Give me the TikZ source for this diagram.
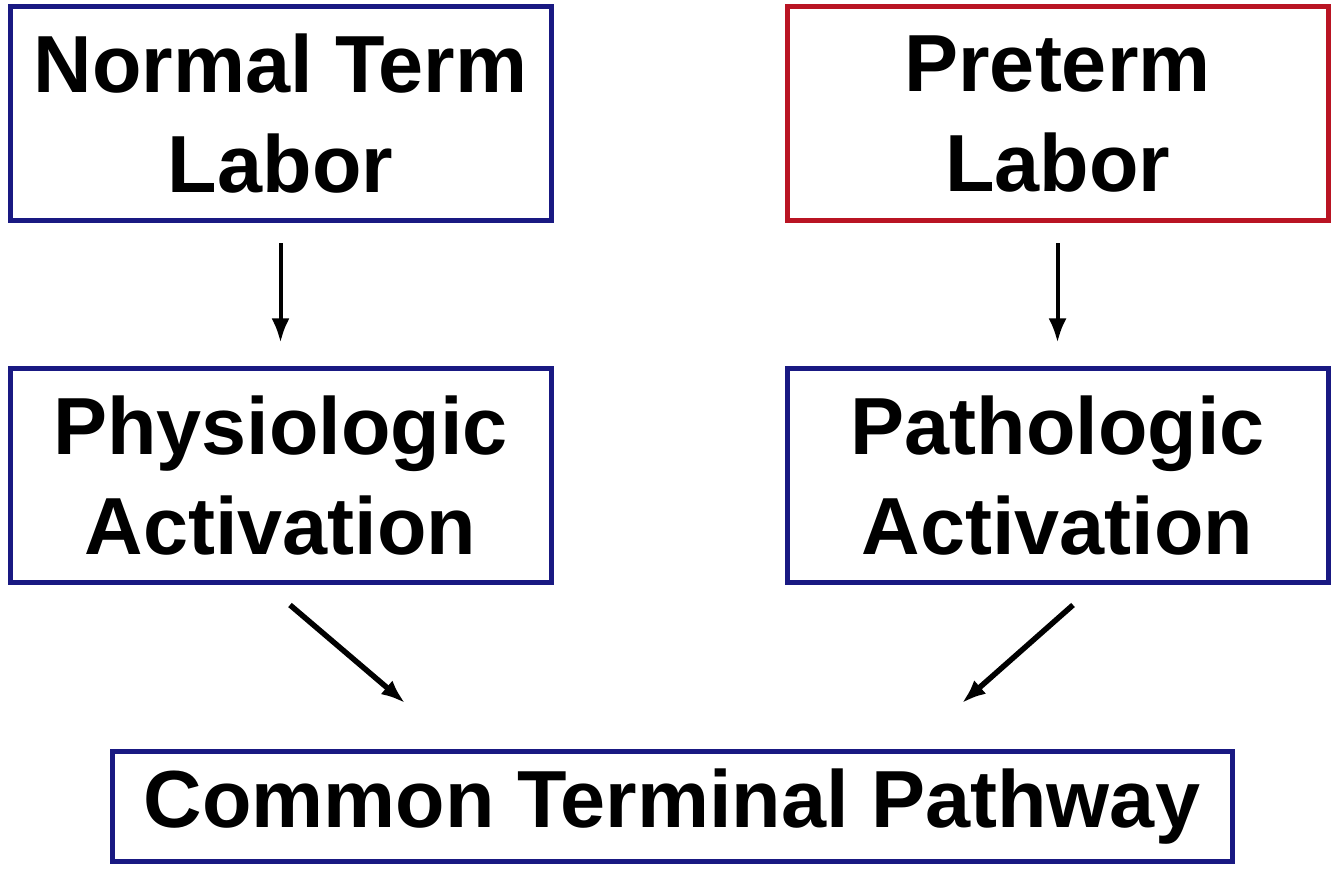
\documentclass[tikz,border=0pt]{standalone}
\usepackage{fontspec}
\setmainfont{Liberation Sans}
\usetikzlibrary{arrows.meta}
\definecolor{boxblue}{RGB}{25,25,130}
\definecolor{boxred}{RGB}{185,20,35}
\begin{document}
\begin{tikzpicture}[x=1pt,y=1pt,
  box/.style={draw=boxblue,line width=5pt,inner sep=0pt,align=center,
    font=\fontsize{81}{100}\selectfont\bfseries},
  arr/.style={-{Latex[length=24pt,width=18pt]},line width=5.5pt,black}]
\useasboundingbox (0,0) rectangle (1337,869);
\fill[white] (0,0) rectangle (1337,869);
\node[box,minimum width=541pt,minimum height=214pt] (ntl) at (280.5,755) {Normal Term\\Labor};
\node[box,draw=boxred,minimum width=541pt,minimum height=214pt] (ptl) at (1057.5,755) {Preterm\\Labor};
\node[box,minimum width=541pt,minimum height=214pt] (phys) at (280.5,393) {Physiologic\\Activation};
\node[box,minimum width=541pt,minimum height=214pt] (path) at (1057.5,393) {Pathologic\\Activation};
\node[box,minimum width=1120pt,minimum height=110pt] (ctp) at (672,62) {\raisebox{-6pt}{Common Terminal Pathway}};
\draw[arr,line width=4pt,shorten <=20pt,shorten >=24pt] (ntl.south) -- (phys.north);
\draw[arr,line width=4pt,shorten <=20pt,shorten >=24pt] (ptl.south) -- (path.north);
\coordinate (a1) at (290,264);
\coordinate (b1) at (405,166);
\coordinate (a2) at (1073,264);
\coordinate (b2) at (962,166);
\draw[arr] (a1) -- (b1);
\draw[arr] (a2) -- (b2);
\end{tikzpicture}
\end{document}
